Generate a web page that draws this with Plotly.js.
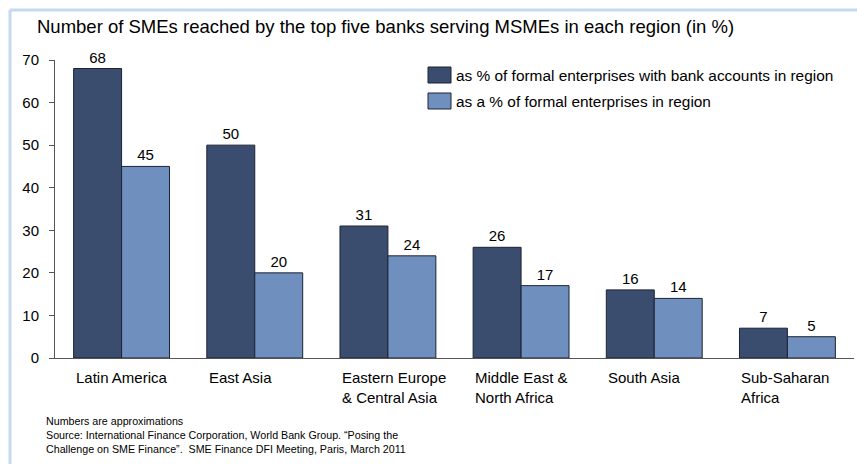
<!DOCTYPE html>
<html>
<head>
<meta charset="utf-8">
<script src="https://cdn.plot.ly/plotly-3.0.1.min.js"></script>
<style>
html,body{margin:0;padding:0;background:#fff;}
#chart{width:857px;height:464px;}
</style>
</head>
<body>
<div id="chart"></div>
<script>
const categories = ["Latin America", "East Asia", "Eastern Europe<br>& Central Asia", "Middle East &<br>North Africa", "South Asia", "Sub-Saharan<br>Africa"];
const seriesNames = ["as % of formal enterprises with bank accounts in region", "as a % of formal enterprises in region"];
const withBankAccounts = [68, 50, 31, 26, 16, 7];
const ofFormalEnterprises = [45, 20, 24, 17, 14, 5];
const yTicks = [0, 10, 20, 30, 40, 50, 60, 70];
const titleText = "Number of SMEs reached by the top five banks serving MSMEs in each region (in %)";
const footnote = "Numbers are approximations<br>Source: International Finance Corporation, World Bank Group. \u201cPosing the<br>Challenge on SME Finance\u201d.  SME Finance DFI Meeting, Paris, March 2011";
const colors = ["#3A4D6E", "#6F8FBE"];

const font = "Liberation Sans, Arial, sans-serif";
const idx = categories.map((c, i) => i);

const traces = [withBankAccounts, ofFormalEnterprises].map((vals, k) => ({
  type: "bar", name: seriesNames[k], x: idx, y: vals,
  marker: {color: colors[k], line: {color: "#1C2333", width: 1}},
  text: vals.map(String), textposition: "outside", cliponaxis: false,
  textfont: {family: font, size: 15, color: "#000"}, hoverinfo: "skip"
}));

const W = 857, H = 464, mL = 55, mR = 3, mT = 60, mB = 106;
const pw = W - mL - mR, ph = H - mT - mB;
const px = x => (x - mL) / pw;
const py = y => (H - mB - y) / ph;

const annotations = categories.map((c, i) => ({
  x: i - 0.36, y: 0, xref: "x", yref: "y", xanchor: "left", yanchor: "top",
  yshift: -9, text: c, showarrow: false, align: "left",
  font: {family: font, size: 15, color: "#000"}
}));
annotations.push({
  x: px(44), y: py(413), xref: "paper", yref: "paper", text: footnote, showarrow: false,
  align: "left", xanchor: "left", yanchor: "top",
  font: {family: font, size: 10.7, color: "#000"}
});

// custom legend (larger swatches like the original)
const shapes = [
  {type: "line", xref: "paper", yref: "paper", x0: px(10), x1: px(10),
   y0: py(10), y1: py(470), line: {color: "#C6D9F0", width: 3}},
  {type: "line", xref: "paper", yref: "paper", x0: px(10), x1: px(860),
   y0: py(10), y1: py(10), line: {color: "#C6D9F0", width: 3}}
];
const legendRows = [75, 101];
seriesNames.forEach((n, k) => {
  const cy = legendRows[k];
  shapes.push({type: "rect", xref: "paper", yref: "paper", x0: px(428), x1: px(451),
    y0: py(cy - 8), y1: py(cy + 8), fillcolor: colors[k], line: {color: "#1C2333", width: 1}});
  annotations.push({x: px(454), y: py(cy), xref: "paper", yref: "paper", xanchor: "left",
    yanchor: "middle", text: n, showarrow: false, font: {family: font, size: 15.4, color: "#000"}});
});

const layout = {
  width: W, height: H,
  margin: {l: mL, r: mR, t: mT, b: mB, pad: 0},
  paper_bgcolor: "#fff", plot_bgcolor: "#fff",
  font: {family: font, size: 15, color: "#000"},
  title: {text: titleText, x: 37 / W, xanchor: "left", y: 1 - 27 / H, yanchor: "middle",
          font: {family: font, size: 18.5, color: "#000"}},
  barmode: "group", bargap: 0.28, bargroupgap: 0,
  showlegend: false,
  xaxis: {range: [-0.5, 5.5], showticklabels: false, ticks: "", showline: true,
          linecolor: "#555", linewidth: 1, showgrid: false, zeroline: false, fixedrange: true},
  yaxis: {range: [0, 70], tickvals: yTicks, ticks: "outside", ticklen: 5, tickcolor: "#555",
          showline: true, linecolor: "#555", linewidth: 1, showgrid: false, zeroline: false,
          tickfont: {family: font, size: 15, color: "#000"}, ticklabelstandoff: 7},
  annotations: annotations,
  shapes: shapes
};

Plotly.newPlot("chart", traces, layout, {staticPlot: true, displayModeBar: false});
</script>
</body>
</html>
